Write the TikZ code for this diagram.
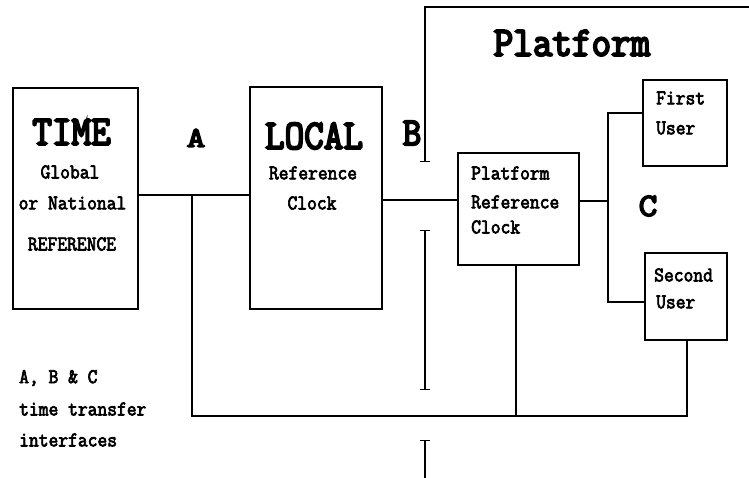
\documentclass[tikz,border=0pt]{standalone}
\usepackage{fontspec}
\newfontfamily\heavyfont{Latin Modern Mono}[FakeBold=5]
\newfontfamily\plainfont{Latin Modern Mono}[FakeBold=3.5]
\usetikzlibrary{arrows.meta}
\newcommand{\tallword}[1]{\scalebox{1}[1.1]{#1}}
\begin{document}
\begin{tikzpicture}[x=1pt,y=-1pt,
  box/.style={draw, line width=1.3pt, inner sep=0pt},
  wire/.style={line width=1.1pt},
  divider/.style={line width=1.1pt},
  small/.style={font=\plainfont\fontsize{19}{20}\selectfont, inner sep=0pt},
  big/.style={font=\heavyfont\fontsize{38}{40}\selectfont, inner sep=0pt},
  letter/.style={font=\heavyfont\fontsize{36}{38}\selectfont, inner sep=0pt}]
\useasboundingbox (0,0) rectangle (749,478);

% boxes
\node[box, minimum width=125pt, minimum height=221pt] (time) at (75.5,198.5) {};
\node[box, minimum width=132pt, minimum height=222pt] (local) at (316,198) {};
\node[box, minimum width=121pt, minimum height=112pt] (prc) at (518.5,209) {};
\node[box, minimum width=84pt, minimum height=86pt] (first) at (685,123) {};
\node[box, minimum width=82pt, minimum height=87pt] (second) at (686,296.5) {};

% box texts
\node[big] (timet) at (71.5,132) {\tallword{TIME}};
\node[small] (global) at (70,172) {\tallword{Global}};
\node[small] (national) at (72.5,203) {\tallword{or National}};
\node[small] (ref) at (72,244) {\tallword{REFERENCE}};
\node[big] (localt) at (314,136) {\tallword{LOCAL}};
\node[small] (lref) at (313,173) {\tallword{Reference}};
\node[small] (lclock) at (312,203) {\tallword{Clock}};
\node[small, anchor=west] (pplat) at (471,173) {\tallword{Platform}};
\node[small, anchor=west] (pref) at (471,202) {\tallword{Reference}};
\node[small, anchor=west] (pclock) at (471,227) {\tallword{Clock}};
\node[small, anchor=west] (firstt) at (656,98) {\tallword{First}};
\node[small, anchor=west] (firstu) at (656,128) {\tallword{User}};
\node[small, anchor=west] (secondt) at (654,275) {\tallword{Second}};
\node[small, anchor=west] (secondu) at (656,302) {\tallword{User}};

% titles and interface letters
\node[big] (plat) at (572,43) {\tallword{Platform}};
\node[letter] (la) at (196,138) {\scalebox{1}[0.8]{A}};
\node[letter] (lb) at (412,133) {\tallword{B}};
\node[letter] (lc) at (648,206) {\scalebox{1}[0.9]{C}};

% legend
\node[small, anchor=west] (leg1) at (19,378) {\tallword{A, B \& C}};
\node[small, anchor=west] (leg2) at (19,409) {\tallword{time transfer}};
\node[small, anchor=west] (leg3) at (19,440) {\tallword{interfaces}};

% junctions
\coordinate (ja) at (192,195);
\coordinate (bl) at (192,416);
\coordinate (br) at (687,416);
\coordinate (pb) at (516,416);
\coordinate (jb) at (0,200);
\coordinate (jc) at (608,201);
\coordinate (jct) at (608,113);
\coordinate (jcb) at (608,302);

% connectors
\draw[wire] (time.east |- ja) -- (local.west |- ja);
\draw[wire] (ja) -- (bl) -- (br) -- (second.south -| br);
\draw[wire] (prc.south -| pb) -- (pb);
\draw[wire] (local.east |- jb) -- (prc.west |- jb);
\draw[wire] (prc.east |- jc) -- (jc);
\draw[wire] (first.west |- jct) -- (jct) -- (jcb) -- (second.west |- jcb);

% platform boundary
\coordinate (d0) at (749,7);
\coordinate (d1) at (425,7);
\coordinate (d2) at (425,162);
\coordinate (d3) at (425,230);
\coordinate (d4) at (425,390);
\coordinate (d5) at (425,440);
\coordinate (d6) at (425,478);
\draw[divider, -{Bar[width=10pt]}] (d0) -- (d1) -- (d2);
\draw[divider, {Bar[width=10pt]}-{Bar[width=10pt]}] (d3) -- (d4);
\draw[divider, {Bar[width=10pt]}-] (d5) -- (d6);
\end{tikzpicture}
\end{document}
